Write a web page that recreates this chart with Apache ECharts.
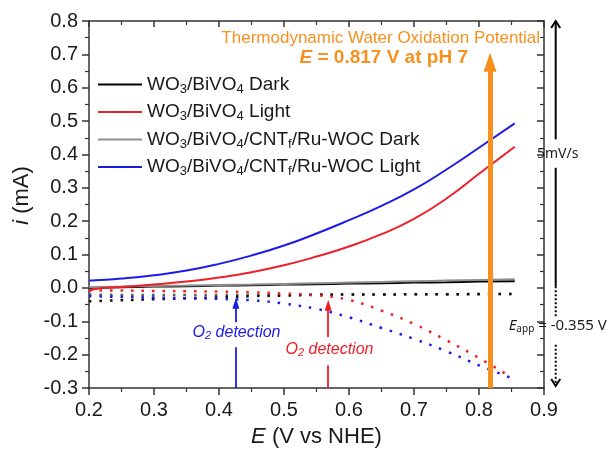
<!DOCTYPE html>
<html><head><meta charset="utf-8">
<script src="https://cdn.jsdelivr.net/npm/echarts@6/dist/echarts.min.js"></script>
<style>html,body{margin:0;padding:0;background:#fff}#c{width:608px;height:457px}</style>
</head><body><div id="c"></div>
<script>
// ---- data ----
const E = [0.2, 0.21, 0.25, 0.3, 0.35, 0.4, 0.45, 0.5, 0.55, 0.6, 0.65, 0.7, 0.75, 0.8, 0.855];
const darkA  = [0.0, 0.001, 0.002, 0.004, 0.005, 0.007, 0.008, 0.010, 0.011, 0.013, 0.014, 0.016, 0.017, 0.019, 0.020];
const lightA = [-0.010, -0.003, 0.003, 0.010, 0.019, 0.031, 0.047, 0.068, 0.094, 0.124, 0.161, 0.207, 0.268, 0.342, 0.423];
const darkB  = [0.002, 0.003, 0.004, 0.006, 0.007, 0.009, 0.010, 0.012, 0.014, 0.016, 0.018, 0.020, 0.022, 0.024, 0.026];
const lightB = [0.022, 0.023, 0.028, 0.038, 0.052, 0.072, 0.097, 0.127, 0.163, 0.203, 0.246, 0.295, 0.355, 0.420, 0.493];

const E2 = [0.2, 0.25, 0.3, 0.35, 0.4, 0.45, 0.5, 0.55, 0.6, 0.65, 0.7, 0.75, 0.8, 0.85];
const ringDarkA  = [-0.040, -0.037, -0.034, -0.031, -0.028, -0.025, -0.023, -0.021, -0.020, -0.020, -0.019, -0.019, -0.018, -0.018];
const ringDarkB  = [-0.020, -0.021, -0.021, -0.021, -0.021, -0.021, -0.021, -0.020, -0.020, -0.020, -0.019, -0.019, -0.019, -0.018];
const ringLightA = [-0.008, -0.008, -0.009, -0.010, -0.011, -0.013, -0.017, -0.022, -0.036, -0.068, -0.108, -0.157, -0.210, -0.268];
const ringLightB = [-0.025, -0.027, -0.029, -0.031, -0.033, -0.037, -0.047, -0.063, -0.088, -0.120, -0.153, -0.190, -0.232, -0.270];

const names = ['WO3/BiVO4 Dark', 'WO3/BiVO4 Light', 'WO3/BiVO4/CNTf/Ru-WOC Dark', 'WO3/BiVO4/CNTf/Ru-WOC Light'];
const richNames = [
  '{n|WO}{s|3}{n|/BiVO}{s|4}{n| Dark}',
  '{n|WO}{s|3}{n|/BiVO}{s|4}{n| Light}',
  '{n|WO}{s|3}{n|/BiVO}{s|4}{n|/CNT}{s|f}{n|/Ru-WOC Dark}',
  '{n|WO}{s|3}{n|/BiVO}{s|4}{n|/CNT}{s|f}{n|/Ru-WOC Light}'
];
const E_thermo = 0.817;
const O2blueE = 0.426;
const O2redE = 0.568;

// ---- chart ----
const FONT = '"Liberation Sans", Arial, sans-serif';
const TXT = '#1a1a1a';
const AX = '#333';
const ORANGE = '#f7901e';
const BLUE = '#1c1ce6';
const RED = '#ee1f26';
const GRAY = '#8e8e8e';
const chart = echarts.init(document.getElementById('c'));
const pairs = (xs, ys) => xs.map((x, i) => [x, ys[i]]);

function solid(name, xs, ys, color) {
  return {type: 'line', name, data: pairs(xs, ys), symbol: 'none', smooth: 0.5, z: 3,
    lineStyle: {color, width: 2}, itemStyle: {color}, silent: true};
}
function dotted(name, xs, ys, color) {
  return {type: 'line', name, data: pairs(xs, ys), symbol: 'none', smooth: 0.4, z: 2,
    lineStyle: {color, width: 2.5, type: [2.5, 8]}, itemStyle: {color}, silent: true};
}
function arrowSeries(color, width, segs) {
  return {type: 'line', name: 'annot-' + color, data: [], z: 10, silent: true,
    markLine: {silent: true, animation: false, label: {show: false}, symbol: 'none',
      lineStyle: {color, width, type: 'solid'}, emphasis: {disabled: true},
      data: segs}};
}
const axLine = {show: true, onZero: false, lineStyle: {color: AX, width: 1.5}};
const tickOut = {show: true, length: 7, lineStyle: {color: AX, width: 1.5}};
const tickIn = {show: true, inside: true, length: 7, lineStyle: {color: AX, width: 1.5}};
const minor = {show: true, splitNumber: 2, length: 4, lineStyle: {color: AX, width: 1.2}};
const lbl = {fontSize: 20, color: TXT, fontFamily: FONT, formatter: v => v.toFixed(1)};

const option = {
  animation: false,
  grid: {left: 89, right: 64, top: 21, bottom: 69},
  legend: {
    data: names, orient: 'vertical', left: 93, top: 70, itemWidth: 44, itemHeight: 2, itemGap: 7,
    icon: 'rect', selectedMode: false, formatter: n => richNames[names.indexOf(n)],
    textStyle: {rich: {
      n: {fontSize: 19, fontFamily: FONT, color: TXT, lineHeight: 22},
      s: {fontSize: 13, fontFamily: FONT, color: TXT, lineHeight: 10, verticalAlign: 'bottom'}
    }}
  },
  xAxis: [
    {type: 'value', min: 0.2, max: 0.9, interval: 0.1, position: 'bottom',
      axisLine: axLine, axisTick: tickOut, minorTick: minor, splitLine: {show: false},
      axisLabel: Object.assign({margin: 12}, lbl),
      name: '{i|E} (V vs NHE)', nameLocation: 'middle', nameGap: 38,
      nameTextStyle: {fontSize: 22, color: TXT, fontFamily: FONT,
        rich: {i: {fontSize: 22, fontStyle: 'italic', color: TXT, fontFamily: FONT}}}},
    {type: 'value', min: 0.2, max: 0.9, interval: 0.1, position: 'top',
      axisLine: axLine, axisTick: Object.assign({}, tickIn, {length: 6}), minorTick: minor,
      splitLine: {show: false}, axisLabel: {show: false}}
  ],
  yAxis: [
    {type: 'value', min: -0.3, max: 0.8, interval: 0.1, position: 'left',
      axisLine: axLine, axisTick: tickOut, minorTick: minor, splitLine: {show: false},
      axisLabel: Object.assign({margin: 11}, lbl),
      name: '{i|i} (mA)', nameLocation: 'middle', nameGap: 55,
      nameTextStyle: {fontSize: 22, color: TXT, fontFamily: FONT, padding: [0, 0, 0, 18],
        rich: {i: {fontSize: 22, fontStyle: 'italic', color: TXT, fontFamily: FONT}}}},
    {type: 'value', min: -0.3, max: 0.8, interval: 0.1, position: 'right',
      axisLine: axLine, axisTick: tickIn, minorTick: minor,
      splitLine: {show: false}, axisLabel: {show: false}}
  ],
  series: [
    dotted('ring-darkB', E2, ringDarkB, '#5a5a5a'),
    dotted('ring-darkA', E2, ringDarkA, '#111'),
    dotted('ring-lightA', E2, ringLightA, RED),
    dotted('ring-lightB', E2, ringLightB, BLUE),
    solid(names[0], E, darkA, '#000'),
    solid(names[2], E, darkB, GRAY),
    solid(names[1], E, lightA, RED),
    solid(names[3], E, lightB, BLUE),
    arrowSeries(ORANGE, 5, [
      [{coord: [E_thermo, -0.3]}, {coord: [E_thermo, 0.676], symbol: 'triangle', symbolSize: [13, 19]}]
    ]),
    arrowSeries(BLUE, 1.8, [
      [{coord: [O2blueE, -0.3]}, {coord: [O2blueE, -0.178]}],
      [{coord: [O2blueE, -0.103]}, {coord: [O2blueE, -0.046], symbol: 'triangle', symbolSize: [7, 11]}]
    ]),
    arrowSeries(RED, 1.8, [
      [{coord: [O2redE, -0.3]}, {coord: [O2redE, -0.232]}],
      [{coord: [O2redE, -0.147]}, {coord: [O2redE, -0.052], symbol: 'triangle', symbolSize: [7, 11]}]
    ])
  ]
};
chart.setOption(option);

const px = (x, y) => chart.convertToPixel({xAxisIndex: 0, yAxisIndex: 0}, [x, y]);
function txt(p, text, opt) {
  return {type: 'text', z: 20, silent: true,
    style: Object.assign({x: p[0], y: p[1], text, fill: TXT, fontFamily: FONT,
      align: 'center', textAlign: 'center', verticalAlign: 'middle', textVerticalAlign: 'middle'}, opt)};
}
function seg(a, b, dash) {
  return {type: 'line', z: 20, silent: true, shape: {x1: a[0], y1: a[1], x2: b[0], y2: b[1]},
    style: {stroke: '#000', lineWidth: 2, lineDash: dash || null}};
}
const xr = px(0.918, 0)[0];
const yTop = px(0, 0.8)[1], yBot = px(0, -0.3)[1];
const o2rich = c => ({
  o: {fontSize: 16, fontStyle: 'italic', fontFamily: FONT, fill: c, color: c, lineHeight: 18},
  s: {fontSize: 11, fontStyle: 'italic', fontFamily: FONT, fill: c, color: c, lineHeight: 8, verticalAlign: 'bottom'}
});
const graphics = [
  txt(px(0.894, 0.748), 'Thermodynamic Water Oxidation Potential',
    {fill: ORANGE, fontSize: 17, align: 'right', textAlign: 'right'}),
  txt(px(0.783, 0.689), '{ie|E}{b| = 0.817 V at pH 7}',
    {align: 'right', textAlign: 'right', rich: {
      ie: {fontSize: 19, fontWeight: 'bold', fontStyle: 'italic', fontFamily: FONT, fill: ORANGE, color: ORANGE},
      b: {fontSize: 19, fontWeight: 'bold', fontFamily: FONT, fill: ORANGE, color: ORANGE}}}),
  txt(px(0.427, -0.133), '{o|O}{s|2}{o| detection}', {rich: o2rich(BLUE)}),
  txt(px(0.57, -0.184), '{o|O}{s|2}{o| detection}', {rich: o2rich(RED)}),
  // scan direction arrow outside the plot
  seg([xr, yTop], [xr, px(0, 0.445)[1]]),
  {type: 'polyline', z: 20, silent: true, shape: {points: [[xr - 4.5, yTop + 7], [xr, yTop], [xr + 4.5, yTop + 7]]},
    style: {stroke: '#000', lineWidth: 2, fill: null}},
  txt([xr + 2, px(0, 0.4)[1]], '5mV/s', {fontSize: 14, fontFamily: '"Noto Sans", sans-serif'}),
  seg([xr, px(0, 0.36)[1]], [xr, px(0, 0.005)[1]]),
  seg([xr, px(0, 0.005)[1]], [xr, px(0, -0.09)[1]], [2, 2]),
  txt([xr + 2, px(0, -0.112)[1]], '{i|E}{s|app}{n| = -0.355 V}', {rich: {
    i: {fontSize: 15, fontStyle: 'italic', fontFamily: '"Noto Sans", sans-serif', fill: TXT, color: TXT, lineHeight: 18},
    s: {fontSize: 10, fontFamily: '"Noto Sans", sans-serif', fill: TXT, color: TXT, lineHeight: 8, verticalAlign: 'bottom'},
    n: {fontSize: 15, fontFamily: '"Noto Sans", sans-serif', fill: TXT, color: TXT, lineHeight: 18}}}),
  seg([xr, px(0, -0.17)[1]], [xr, yBot - 3], [2, 2]),
  {type: 'polyline', z: 20, silent: true, shape: {points: [[xr - 4.5, yBot - 9], [xr, yBot - 2], [xr + 4.5, yBot - 9]]},
    style: {stroke: '#000', lineWidth: 2, fill: null}}
];
chart.setOption({graphic: graphics});
</script></body></html>
